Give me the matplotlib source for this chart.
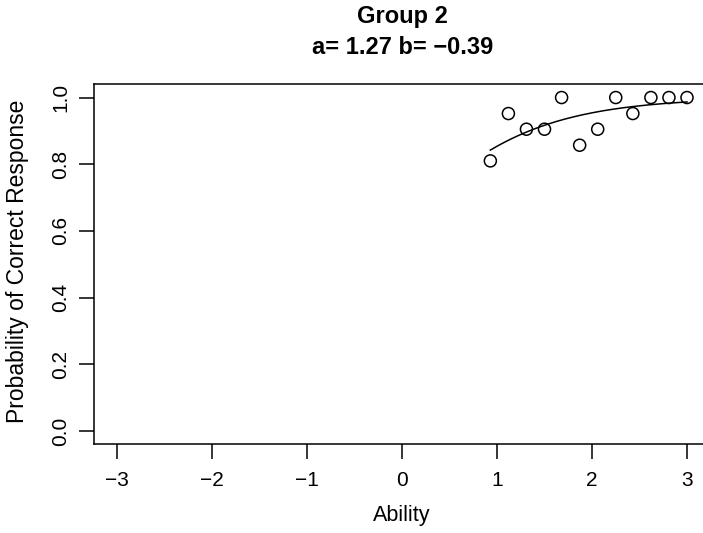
import numpy as np
import matplotlib
matplotlib.use("Agg")
import matplotlib.pyplot as plt

plt.rcParams['font.family'] = ['Liberation Sans', 'DejaVu Sans']

# Observed proportions correct at each ability level
ability = [0.93, 1.12, 1.31, 1.50, 1.68, 1.87, 2.06, 2.25, 2.43, 2.62, 2.81, 3.00]
prop_correct = [0.810, 0.952, 0.905, 0.905, 1.000, 0.857, 0.905, 1.000, 0.952, 1.000, 1.000, 1.000]

# Item parameters
a_param = 1.27
b_param = -0.39

x_ticks = [-3, -2, -1, 0, 1, 2, 3]
y_ticks = [0.0, 0.2, 0.4, 0.6, 0.8, 1.0]

W, H = 703, 533
fig = plt.figure(figsize=(W / 100, H / 100), dpi=100)
left, right, bottom, top = 94.2, 709.8, 444.3, 84.2
ax = fig.add_axes([left / W, 1 - bottom / H, (right - left) / W, (bottom - top) / H])

ax.scatter(ability, prop_correct, s=75, facecolors='none', edgecolors='black', linewidths=1.1, zorder=3)

theta = np.linspace(min(ability), max(ability), 200)
icc = 1 / (1 + np.exp(-a_param * (theta - b_param)))
ax.plot(theta, icc, color='black', lw=1.1)

ax.set_xlim(-3.24, 3.24)
ax.set_ylim(-0.04, 1.04)
ax.set_xticks(x_ticks)
ax.set_xticklabels([str(v).replace('-', '\u2212') for v in x_ticks])
ax.set_yticks(y_ticks)
ax.set_yticklabels([f"{v:.1f}" for v in y_ticks], rotation=90, va='center')

for s in ax.spines.values():
    s.set_linewidth(1.1)
    s.set_clip_on(False)

ax.tick_params(direction='out', length=11, width=1.1, labelsize=15, pad=6)
ax.tick_params(axis='x', pad=8)

fig.text(402 / W, 1 - 516 / H, "Ability", ha='center', va='center', fontsize=15.5)
fig.text(18 / W, 1 - 261 / H, "Probability of Correct Response", ha='center', va='center',
         rotation=90, fontsize=16.5)

fig.text(402 / W, 1 - 17 / H, "Group 2", ha='center', va='center', fontsize=17, fontweight='bold')
fig.text(403 / W, 1 - 47 / H, "a= 1.27 b= \u22120.39", ha='center', va='center', fontsize=17, fontweight='bold')

fig.savefig("out.png", dpi=100)
